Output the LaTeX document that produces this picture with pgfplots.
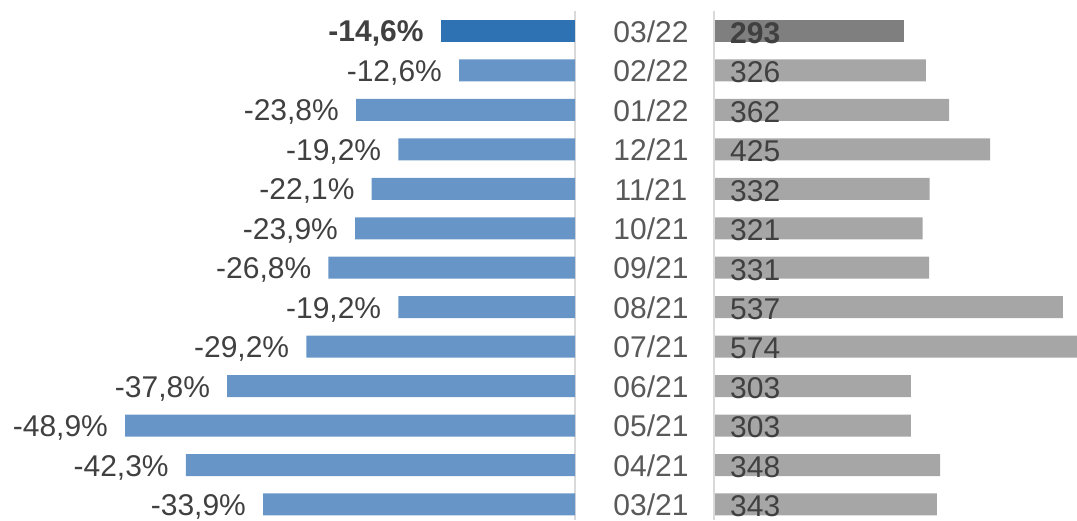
\documentclass[border=0pt]{standalone}
\usepackage{fontspec}
\setmainfont{Liberation Sans}
\usepackage{pgfplots}
\usepackage{pgfplotstable}
\pgfplotsset{compat=1.18}
\definecolor{blueL}{RGB}{103,149,199}
\definecolor{blueD}{RGB}{46,114,180}
\definecolor{grayL}{RGB}{166,166,166}
\definecolor{grayD}{RGB}{127,127,127}
\definecolor{txt}{RGB}{64,64,64}
\definecolor{datecol}{RGB}{89,89,89}
\definecolor{vline}{RGB}{217,217,217}
\pgfplotstableread{
y pct cnt
0 -33.9 343
1 -42.3 348
2 -48.9 303
3 -37.8 303
4 -29.2 574
5 -19.2 537
6 -26.8 331
7 -23.9 321
8 -22.1 332
9 -19.2 425
10 -23.8 362
11 -12.6 326
}\data
\pgfplotstableread{
y pct cnt
12 -14.6 293
}\datatop
\newcommand{\lblfont}{\fontsize{30}{33}\selectfont}
\begin{document}
\begin{tikzpicture}
\useasboundingbox (0,0) rectangle (1077pt,520pt);
\begin{axis}[at={(0pt,0pt)}, anchor=south west, scale only axis,
  width=575pt, height=520pt, xmin=-62.5, xmax=0, ymin=-0.393, ymax=12.785,
  hide axis, clip=false,
  /pgf/number format/assume math mode=true]
\draw[vline, line width=2pt] (axis cs:0,-0.393) -- (axis cs:0,12.5);
\addplot[xbar, bar shift=0pt, bar width=22pt, fill=blueL, draw=none,
  point meta=x,
  nodes near coords={\pgfmathprintnumber[fixed, precision=1, fixed zerofill, use comma]{\pgfplotspointmeta}\%},
  every node near coord/.append style={anchor=east, inner sep=0pt, xshift=-17pt, yshift=-2.5pt, font=\lblfont, text=txt}]
  table[x=pct, y=y] {\data};
\addplot[xbar, bar shift=0pt, bar width=22pt, fill=blueD, draw=none,
  point meta=x,
  nodes near coords={\pgfmathprintnumber[fixed, precision=1, fixed zerofill, use comma]{\pgfplotspointmeta}\%},
  every node near coord/.append style={anchor=east, inner sep=0pt, xshift=-17pt, yshift=-2.5pt, font=\lblfont\bfseries, text=txt}]
  table[x=pct, y=y] {\datatop};
\end{axis}
\begin{axis}[at={(714pt,0pt)}, anchor=south west, scale only axis,
  width=363pt, height=520pt, xmin=0, xmax=558.8, ymin=-0.393, ymax=12.785,
  axis line style={draw=none}, major tick length=0pt, xtick=\empty,
  ytick={0,...,12},
  yticklabels={03/21,04/21,05/21,06/21,07/21,08/21,09/21,10/21,11/21,12/21,01/22,02/22,03/22},
  yticklabel style={anchor=center, xshift=-63pt, yshift=-0.5pt, font=\lblfont, text=datecol},
  clip mode=individual,
  /pgf/number format/assume math mode=true]
\addplot[xbar, bar shift=0pt, bar width=22pt, fill=grayL, draw=none] table[x=cnt, y=y] {\data};
\addplot[xbar, bar shift=0pt, bar width=22pt, fill=grayD, draw=none] table[x=cnt, y=y] {\datatop};
\draw[vline, line width=2pt] (axis cs:0,-0.393) -- (axis cs:0,12.5);
\addplot[draw=none, mark=none, point meta=explicit,
  nodes near coords={\pgfmathprintnumber{\pgfplotspointmeta}},
  every node near coord/.append style={anchor=west, inner sep=0pt, xshift=16pt, yshift=-2pt, font=\lblfont, text=txt}]
  table[x expr=0, y=y, meta=cnt] {\data};
\addplot[draw=none, mark=none, point meta=explicit,
  nodes near coords={\pgfmathprintnumber{\pgfplotspointmeta}},
  every node near coord/.append style={anchor=west, inner sep=0pt, xshift=16pt, yshift=-2pt, font=\lblfont\bfseries, text=txt}]
  table[x expr=0, y=y, meta=cnt] {\datatop};
\end{axis}
\end{tikzpicture}
\end{document}
